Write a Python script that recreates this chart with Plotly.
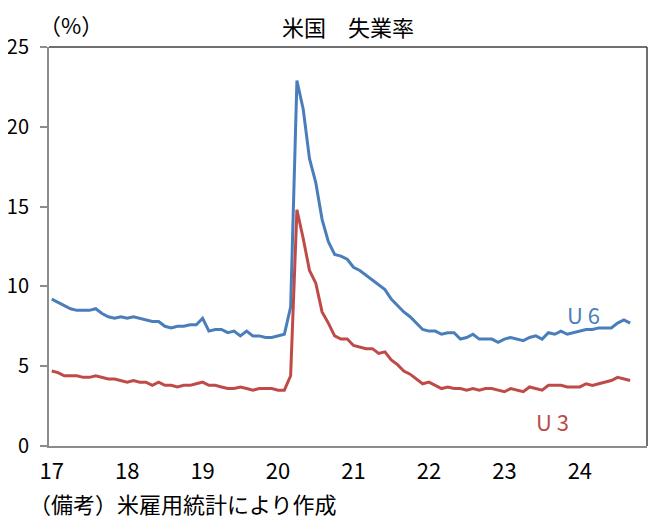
import plotly.graph_objects as go

years = [17, 18, 19, 20, 21, 22, 23, 24]
tick_labels = ["17", "18", "19", "20", "21", "22", "23", "24"]

u6 = [9.2, 9.0, 8.8, 8.6, 8.5, 8.5, 8.5, 8.6, 8.3, 8.1, 8.0, 8.1,
      8.0, 8.1, 8.0, 7.9, 7.8, 7.8, 7.5, 7.4, 7.5, 7.5, 7.6, 7.6,
      8.0, 7.2, 7.3, 7.3, 7.1, 7.2, 6.9, 7.2, 6.9, 6.9, 6.8, 6.8,
      6.9, 7.0, 8.7, 22.9, 21.1, 18.0, 16.5, 14.2, 12.8, 12.0, 11.9, 11.7,
      11.2, 11.0, 10.7, 10.4, 10.1, 9.8, 9.2, 8.8, 8.4, 8.1, 7.7, 7.3,
      7.2, 7.2, 7.0, 7.1, 7.1, 6.7, 6.8, 7.0, 6.7, 6.7, 6.7, 6.5,
      6.7, 6.8, 6.7, 6.6, 6.8, 6.9, 6.7, 7.1, 7.0, 7.2, 7.0, 7.1,
      7.2, 7.3, 7.3, 7.4, 7.4, 7.4, 7.7, 7.9, 7.7]

u3 = [4.7, 4.6, 4.4, 4.4, 4.4, 4.3, 4.3, 4.4, 4.3, 4.2, 4.2, 4.1,
      4.0, 4.1, 4.0, 4.0, 3.8, 4.0, 3.8, 3.8, 3.7, 3.8, 3.8, 3.9,
      4.0, 3.8, 3.8, 3.7, 3.6, 3.6, 3.7, 3.6, 3.5, 3.6, 3.6, 3.6,
      3.5, 3.5, 4.4, 14.8, 13.0, 11.0, 10.2, 8.4, 7.7, 6.9, 6.7, 6.7,
      6.3, 6.2, 6.1, 6.1, 5.8, 5.9, 5.4, 5.1, 4.7, 4.5, 4.2, 3.9,
      4.0, 3.8, 3.6, 3.7, 3.6, 3.6, 3.5, 3.6, 3.5, 3.6, 3.6, 3.5,
      3.4, 3.6, 3.5, 3.4, 3.7, 3.6, 3.5, 3.8, 3.8, 3.8, 3.7, 3.7,
      3.7, 3.9, 3.8, 3.9, 4.0, 4.1, 4.3, 4.2, 4.1]

# monthly positions in "year" units (17 = Jan 2017)
months = [years[0] + i / 12 for i in range(len(u6))]

BLUE = "#4A7EBB"
RED = "#BE4B48"
FONT = "Noto Sans CJK JP"

fig = go.Figure()
fig.add_trace(go.Scatter(x=months, y=u6, mode="lines", name="U6",
                         line=dict(color=BLUE, width=3)))
fig.add_trace(go.Scatter(x=months, y=u3, mode="lines", name="U3",
                         line=dict(color=RED, width=3)))

fig.update_layout(
    width=659, height=517,
    margin=dict(l=41, r=20, t=39, b=79),
    paper_bgcolor="white", plot_bgcolor="white",
    showlegend=False,
    font=dict(family=FONT, color="#000000", size=20),
    xaxis=dict(range=[16.964, 24.89], tickvals=years, ticktext=tick_labels,
               showgrid=False, zeroline=False, showline=True,
               linecolor="#8C8C8C", linewidth=2, ticks="",
               tickfont=dict(size=22), ticklabelstandoff=5,
               automargin=False),
    yaxis=dict(range=[0, 25], dtick=5, showgrid=False, zeroline=False,
               showline=True, linecolor="#8C8C8C", linewidth=2,
               ticks="outside", ticklen=7, tickwidth=2, tickcolor="#8C8C8C",
               tickfont=dict(size=20), ticklabelstandoff=7,
               automargin=False),
    shapes=[
        dict(type="line", xref="paper", yref="paper", x0=0, x1=1, y0=1, y1=1,
             line=dict(color="#404040", width=1.5)),
        dict(type="line", xref="paper", yref="paper", x0=1, x1=1, y0=0, y1=1,
             line=dict(color="#404040", width=1.5)),
    ],
    annotations=[
        dict(text="米国　失業率", xref="paper", yref="paper", x=0.5, y=1 + 39 / 399,
             xanchor="center", yanchor="top", showarrow=False,
             font=dict(size=22)),
        dict(text="（%）", xref="paper", yref="paper", x=-12 / 598, y=1 + 23 / 399,
             xanchor="left", yanchor="middle", showarrow=False,
             font=dict(size=22)),
        dict(text="U 6", xref="x", yref="y", x=24.05, y=8.3,
             xanchor="center", yanchor="middle", showarrow=False,
             font=dict(size=22, color=BLUE)),
        dict(text="U 3", xref="x", yref="y", x=23.64, y=1.55,
             xanchor="center", yanchor="middle", showarrow=False,
             font=dict(size=22, color=RED)),
        dict(text="（備考）米雇用統計により作成", xref="paper", yref="paper",
             x=-22 / 598, y=-57 / 399, xanchor="left", yanchor="middle",
             showarrow=False, font=dict(size=22)),
    ],
)

fig.write_html("out.html")
